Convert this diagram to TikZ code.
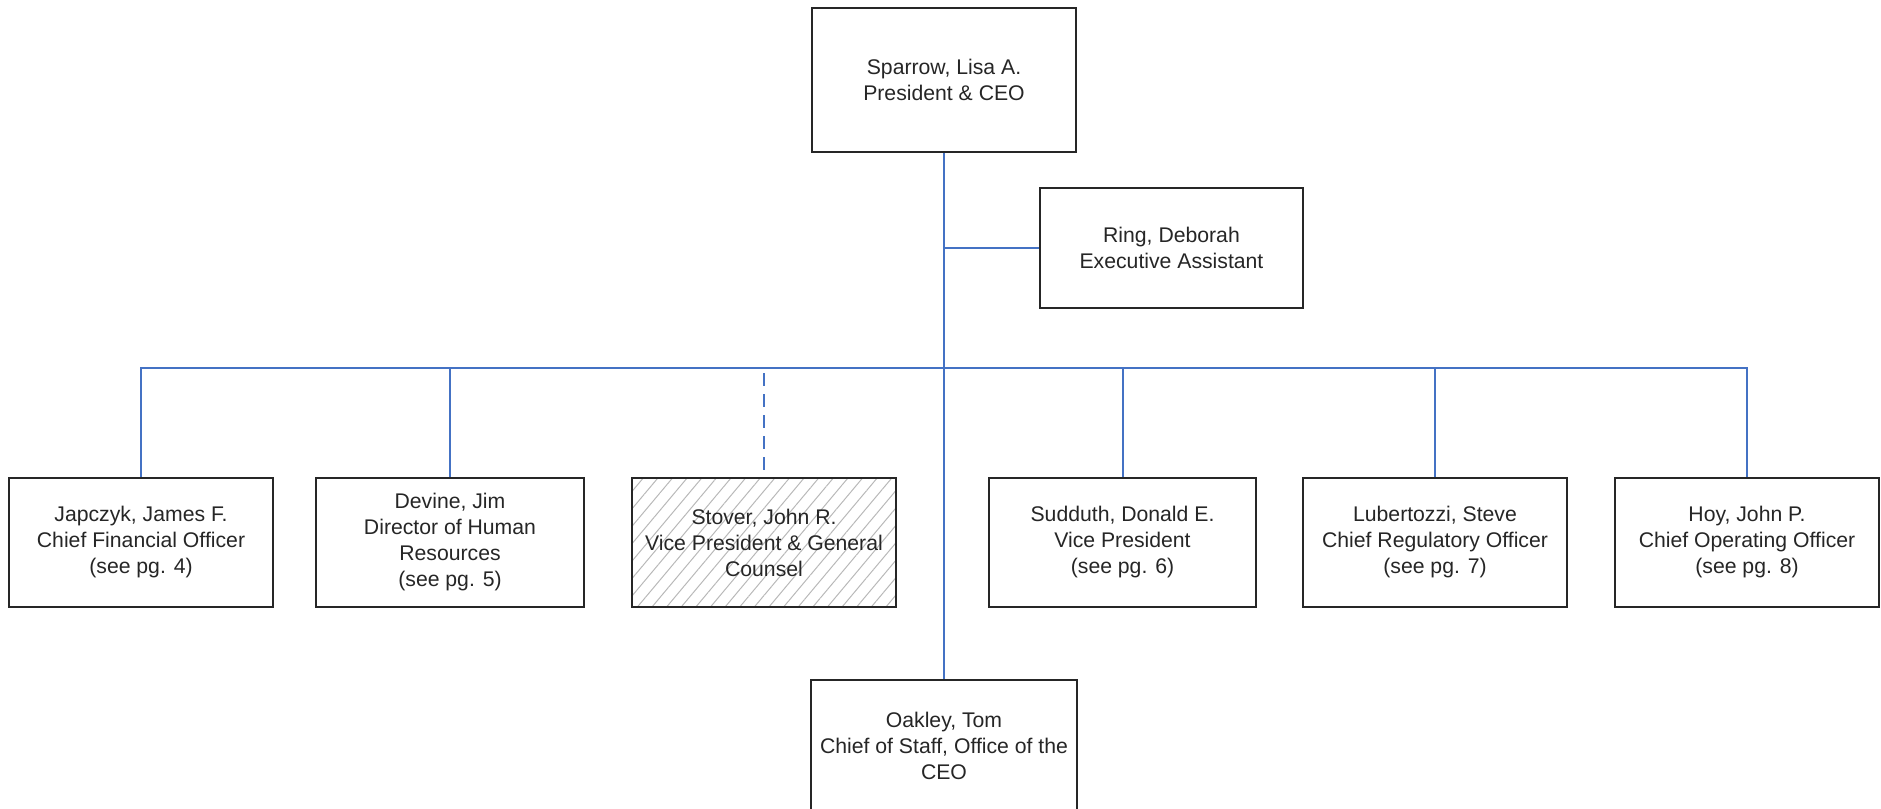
\documentclass[tikz,border=0pt]{standalone}
\usepackage{fontspec}
\setmainfont{Liberation Sans}
\usetikzlibrary{patterns.meta}
\definecolor{linkblue}{HTML}{4472C4}
\definecolor{boxline}{HTML}{262626}
\definecolor{hatchgray}{HTML}{B8B8B8}
\begin{document}
\begin{tikzpicture}[x=0.5pt,y=-0.5pt,
  orgbox/.style={draw=boxline, line width=1pt, fill=white, inner sep=0pt,
    align=center, text=boxline,
    font=\fontsize{10.6}{13}\selectfont,
    minimum width=132pt, minimum height=64.5pt},
  link/.style={draw=linkblue, line width=1pt},
  dottedlink/.style={link, dash pattern=on 6.5pt off 4pt},
  hatched/.style={pattern={Lines[angle=50,distance=5.6pt,line width=0.5pt]},
    pattern color=hatchgray}]
\clip (0,0) rectangle (1881,809);
\useasboundingbox (0,0) rectangle (1881,809);

% top of the chart
\node[orgbox, minimum height=72pt] (ceo) at (944,80) {Sparrow, Lisa A.\\President \& CEO};
\node[orgbox, minimum width=131.5pt, minimum height=60pt] (assist) at (1171.5,248) {Ring, Deborah\\Executive Assistant};

% direct reports
\node[orgbox] (cfo) at (141,542.5) {Japczyk, James F.\\Chief Financial Officer\\(see pg. 4)};
\node[orgbox, minimum width=134pt] (hr) at (450,542.5) {Devine, Jim\\Director of Human\\Resources\\(see pg. 5)};
\node[orgbox, hatched] (counsel) at (764,542.5) {Stover, John R.\\Vice President \& General\\Counsel};
\node[orgbox, minimum width=133.5pt] (vp) at (1122.5,542.5) {Sudduth, Donald E.\\Vice President\\(see pg. 6)};
\node[orgbox] (cro) at (1435,542.5) {Lubertozzi, Steve\\Chief Regulatory Officer\\(see pg. 7)};
\node[orgbox] (coo) at (1747,542.5) {Hoy, John P.\\Chief Operating Officer\\(see pg. 8)};

% chief of staff below the row
\node[orgbox, minimum width=133pt, minimum height=66pt] (staff) at (944,746) {Oakley, Tom\\Chief of Staff, Office of the\\CEO};

% connectors
\coordinate (bus) at (944,368);
\coordinate (dashstart) at (764,373);
\draw[link] (ceo.south) -- (staff.north);
\draw[link] (assist.west) -- (ceo.south |- assist.west);
\draw[link] (cfo.north) -- (cfo.north |- bus) -- (coo.north |- bus) -- (coo.north);
\draw[link] (hr.north) -- (hr.north |- bus);
\draw[link] (vp.north) -- (vp.north |- bus);
\draw[link] (cro.north) -- (cro.north |- bus);
\draw[dottedlink] (dashstart) -- (counsel.north);
\end{tikzpicture}
\end{document}
